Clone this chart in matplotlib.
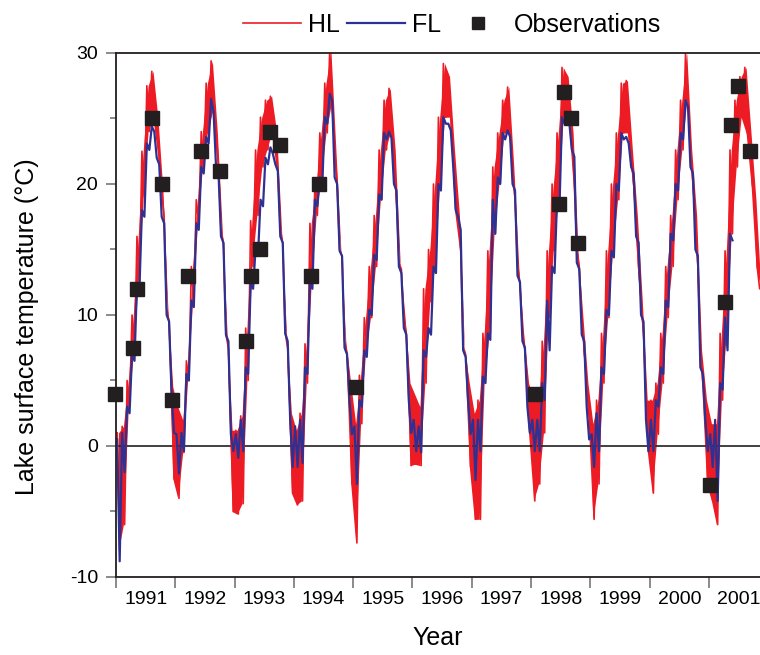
import numpy as np
import matplotlib.pyplot as plt
from matplotlib.ticker import MultipleLocator, FixedLocator

plt.rcParams['font.family'] = ['Liberation Sans', 'DejaVu Sans']
plt.rcParams['axes.unicode_minus'] = False

# monthly upper / lower envelope of the daily model series, from Jan 1991
hl_hi = [1.0, 1.5, 5.0, 10.0, 16.0, 22.5, 27.5, 28.6, 25.0, 19.5, 10.5, 4.5,
         3.0, 2.0, 6.5, 13.7, 18.8, 24.0, 27.7, 29.4, 24.0, 16.5, 8.5, 1.2,
         1.2, 2.3, 9.0, 17.2, 22.6, 25.1, 26.4, 26.7, 24.0, 16.5, 8.6, 2.5,
         1.2, 2.5, 7.8, 17.0, 20.0, 23.9, 27.7, 30.2, 22.6, 15.0, 8.0, 4.8,
         1.7, 5.4, 9.8, 13.7, 17.6, 22.6, 26.4, 27.3, 22.6, 14.0, 9.8, 4.8,
         3.9, 3.0, 12.0, 15.0, 20.0, 25.1, 29.2, 28.2, 22.6, 17.6, 7.5, 4.8,
         2.5, 3.5, 8.6, 14.9, 21.3, 23.9, 26.4, 27.4, 21.3, 13.7, 8.6, 4.8,
         3.5, 3.5, 8.0, 14.9, 20.0, 23.9, 28.9, 28.2, 23.9, 14.9, 9.8, 4.8,
         1.7, 3.5, 8.6, 14.9, 20.0, 23.9, 27.7, 27.9, 22.6, 17.6, 11.1, 3.5,
         3.5, 4.8, 8.6, 13.7, 17.6, 22.6, 26.4, 30.0, 22.6, 17.6, 7.3, 3.5,
         1.7, 1.7, 8.6, 14.9, 22.6, 26.4, 28.2, 28.9, 23.9, 18.8, 12.0]
hl_lo = [-8.0, -6.0, 3.0, 7.0, 12.5, 19.0, 24.0, 25.0, 22.0, 17.5, 9.5, -2.5,
         -4.0, -0.5, 5.0, 11.0, 17.0, 21.3, 23.9, 25.5, 21.3, 15.5, 7.5, -5.0,
         -5.2, -4.4, 5.0, 13.7, 17.6, 21.3, 22.6, 23.9, 21.0, 15.5, 7.5, -3.6,
         -4.5, -4.2, 4.8, 12.4, 17.6, 20.5, 23.9, 26.0, 20.0, 14.5, 7.0, -2.9,
         -7.4, 1.7, 7.2, 9.8, 13.7, 18.8, 22.6, 23.9, 18.8, 13.5, 8.6, -1.5,
         -1.4, -1.5, 4.8, 11.0, 13.7, 20.0, 25.1, 25.1, 18.0, 15.0, 7.0, -1.6,
         -5.6, -5.6, 4.8, 8.6, 16.2, 20.0, 23.9, 23.9, 18.8, 12.4, 7.3, 0.9,
         -4.2, -2.9, 1.0, 9.8, 14.9, 18.8, 25.1, 25.1, 20.0, 13.7, 7.3, 2.3,
         -5.6, -2.9, 4.8, 9.8, 14.9, 18.8, 23.9, 23.9, 20.0, 13.7, 8.6, -0.4,
         -3.6, 0.9, 4.8, 9.8, 13.7, 18.8, 22.6, 26.4, 20.0, 13.7, 4.8, -2.9,
         -4.2, -6.0, 3.5, 8.6, 16.2, 21.3, 25.1, 23.9, 20.0, 13.7, 12.0]

fl_hi = [0.5, 1.0, 3.0, 7.0, 12.4, 18.0, 23.1, 24.4, 22.0, 17.5, 10.0, 4.0,
         0.9, 1.0, 5.5, 11.1, 17.0, 21.3, 23.6, 26.5, 21.3, 16.0, 8.5, 0.9,
         0.9, 2.0, 6.0, 12.4, 15.1, 18.8, 22.0, 22.8, 21.5, 16.0, 8.6, 2.0,
         1.5, 2.0, 6.0, 12.4, 18.8, 20.5, 25.1, 26.9, 20.5, 14.9, 7.5, 3.5,
         1.5, 3.5, 7.3, 10.4, 14.6, 19.2, 23.9, 24.0, 20.0, 13.7, 9.0, 3.5,
         2.0, 1.5, 7.3, 9.0, 13.7, 20.0, 25.1, 24.6, 21.3, 17.5, 7.3, 3.5,
         2.0, 2.0, 5.3, 8.6, 18.8, 20.5, 23.9, 24.1, 20.0, 13.0, 8.0, 3.0,
         2.0, 2.0, 4.8, 11.1, 13.7, 18.8, 25.1, 25.1, 22.6, 14.0, 8.5, 3.0,
         0.9, 2.5, 6.0, 10.4, 14.9, 20.0, 23.9, 23.6, 21.3, 16.0, 10.0, 2.0,
         2.0, 3.5, 6.0, 11.1, 16.2, 20.0, 23.9, 26.4, 21.3, 15.0, 6.0, 2.0,
         0.9, 2.0, 4.8, 9.8, 16.2]
fl_lo = [-8.8, -2.0, 2.5, 6.5, 12.0, 17.5, 22.6, 24.0, 21.5, 17.0, 9.5, 1.0,
         -2.1, -0.4, 5.0, 10.6, 16.5, 20.8, 23.1, 25.5, 20.8, 15.5, 8.0, -0.4,
         -0.9, -0.4, 5.5, 12.0, 14.6, 18.3, 21.5, 22.3, 21.0, 15.5, 8.0, -1.6,
         -1.6, -1.3, 5.5, 12.0, 18.3, 20.0, 24.6, 26.4, 20.0, 14.5, 7.0, 0.9,
         -2.9, 3.0, 6.8, 10.0, 14.2, 18.8, 23.4, 23.5, 19.5, 13.2, 8.5, 1.0,
         -0.4, -0.5, 6.8, 8.5, 13.2, 19.5, 24.6, 24.1, 18.0, 16.5, 6.8, 0.9,
         -2.6, -0.4, 4.8, 8.1, 16.2, 20.0, 23.4, 23.6, 19.5, 12.5, 7.5, 1.0,
         -0.4, -0.4, 3.5, 7.3, 13.2, 18.3, 24.6, 24.6, 22.1, 13.5, 8.0, 0.5,
         -1.6, -0.4, 5.5, 10.0, 14.4, 19.5, 23.4, 23.1, 20.8, 15.5, 9.5, -0.4,
         -0.4, 3.0, 5.5, 10.6, 15.7, 19.5, 23.4, 25.9, 20.8, 14.5, 5.5, -0.4,
         -1.6, -4.2, 4.3, 7.3, 15.7]

obs_year = [1990.98, 1991.29, 1991.35, 1991.61, 1991.78, 1991.95,
            1992.22, 1992.44, 1992.76,
            1993.20, 1993.28, 1993.43, 1993.60, 1993.77,
            1994.29, 1994.43, 1995.04,
            1998.06, 1998.47, 1998.55, 1998.67, 1998.79,
            2001.02, 2001.27, 2001.37, 2001.49, 2001.69]
obs_temp = [4.0, 7.5, 12.0, 25.0, 20.0, 3.5,
            13.0, 22.5, 21.0,
            8.0, 13.0, 15.0, 24.0, 23.0,
            13.0, 20.0, 4.5,
            4.0, 18.5, 27.0, 25.0, 15.5,
            -3.0, 11.0, 24.5, 27.5, 22.5]

years = list(range(1991, 2002))


def month_mid(n):
    return 1991 + (np.arange(n) + 0.5) / 12


def zigzag(hi, lo):
    t = month_mid(len(hi))
    x = np.column_stack([t - 1 / 48, t + 1 / 48]).ravel()
    y = np.column_stack([hi, lo]).ravel()
    return x, y


fig = plt.figure(figsize=(7.6, 6.55), dpi=100)
ax = fig.add_axes([0.1526, 0.1191, 0.8474, 0.8])

dark = '#231f20'
red = '#ed1c24'
blue = '#2e3192'

# HL: noisy band (envelope) plus jagged trace
ax.fill_between(month_mid(len(hl_hi)), hl_lo, hl_hi, color=red, lw=0)
x, y = zigzag(hl_hi, hl_lo)
l_hl, = ax.plot(x, y, color=red, lw=1.2, label='HL')
# FL
x, y = zigzag(fl_hi, fl_lo)
l_fl, = ax.plot(x, y, color=blue, lw=1.6, label='FL')
ax.axhline(0, color=dark, lw=1.2, zorder=1.5)
l_obs, = ax.plot(obs_year, obs_temp, ls='none', marker='s', ms=10,
                 color=dark, label='Observations', clip_on=False, zorder=5)

ax.set_xlim(1991, 2001.86)
ax.set_ylim(-10, 30)

ax.xaxis.set_major_locator(FixedLocator(years))
ax.xaxis.set_minor_locator(FixedLocator([yr + 0.5 for yr in years]))
ax.set_xticklabels([])
ax.set_xticklabels([str(yr) for yr in years], minor=True)
ax.tick_params(axis='x', which='major', direction='out', length=8,
               width=1.2, color='#777777')
ax.tick_params(axis='x', which='minor', length=0, pad=10, labelsize=14)

ax.yaxis.set_major_locator(MultipleLocator(10))
ax.yaxis.set_minor_locator(MultipleLocator(5))
ax.tick_params(axis='y', which='major', direction='out', length=7,
               width=1.2, color='#777777', labelsize=14, pad=6)
ax.tick_params(axis='y', which='minor', direction='out', length=4,
               width=1.2, color='#777777')

for side in ['left', 'bottom', 'top']:
    ax.spines[side].set_color(dark)
    ax.spines[side].set_linewidth(1.3)
ax.spines['right'].set_visible(False)

ax.set_xlabel('Year', fontsize=18, labelpad=13)
ax.set_ylabel('Lake surface temperature (\u00b0C)', fontsize=18, labelpad=16)
ax.yaxis.set_label_coords(-0.12, 0.477)

fig.legend(handles=[l_hl, l_fl, l_obs], loc='center',
           bbox_to_anchor=(0.595, 0.962), ncol=3, frameon=False,
           fontsize=18, handlelength=2.3, handletextpad=0.3,
           columnspacing=0.3, markerscale=0.8)

fig.savefig('out.png', dpi=100)
